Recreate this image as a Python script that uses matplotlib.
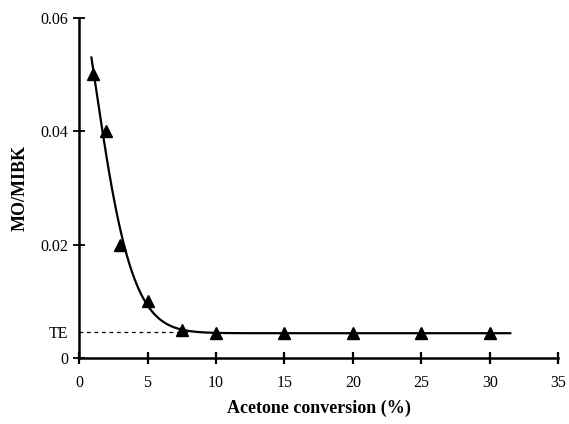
import matplotlib
matplotlib.use("Agg")
import matplotlib.pyplot as plt
import numpy as np

# values
conversion = [1, 2, 3, 5, 7.5, 10, 15, 20, 25, 30]
mo_mibk = [0.050, 0.040, 0.020, 0.010, 0.0050, 0.0044, 0.0044, 0.0043, 0.0043, 0.0043]
te_value = 0.0045
curve_range = [0.9, 31.5]

xticks = [0, 5, 10, 15, 20, 25, 30, 35]
yticks = [0, te_value, 0.02, 0.04, 0.06]
yticklabels = ["0", "TE", "0.02", "0.04", "0.06"]

plt.rcParams["font.family"] = ["Liberation Serif", "DejaVu Serif"]

# stretched exponential trend line y = a*exp(-k x^p) + c, weighted least squares
x = np.array(conversion)
y = np.array(mo_mibk)
w = 1 / np.sqrt(y)
best = None
for p in np.linspace(0.8, 1.6, 41):
    for k in np.linspace(0.05, 1.5, 146):
        A = np.column_stack([np.exp(-k * x ** p), np.ones_like(x)])
        coef, _, _, _ = np.linalg.lstsq(A * w[:, None], y * w, rcond=None)
        err = np.sum(((A @ coef - y) * w) ** 2)
        if best is None or err < best[0]:
            best = (err, k, p, coef)
_, k, p, (a, c) = best
xs = np.linspace(curve_range[0], curve_range[1], 300)
ys = a * np.exp(-k * xs ** p) + c

fig = plt.figure(figsize=(5.69, 4.24), dpi=100)
ax = fig.add_axes([0.139, 0.156, 0.842, 0.802])

ax.plot([0, 8], [te_value, te_value], color="black", linestyle=(0, (3, 3)), linewidth=0.9)
ax.plot(xs, ys, color="black", linewidth=1.6)
ax.plot(x, y, linestyle="none", marker="^", color="black", markersize=8)

ax.set_xlim(0, 35)
ax.set_ylim(0, 0.06)
ax.set_xticks(xticks)
ax.set_yticks(yticks)
ax.set_yticklabels(yticklabels)

ax.spines["top"].set_visible(False)
ax.spines["right"].set_visible(False)
ax.spines["left"].set_linewidth(1.8)
ax.spines["bottom"].set_linewidth(1.8)
ax.tick_params(axis="x", direction="inout", length=9, width=1.6, pad=8, labelsize=11.5)
ax.tick_params(axis="y", direction="inout", length=8, width=1.3, pad=4, labelsize=11.5)
ax.yaxis.get_major_ticks()[1].tick1line.set_visible(False)

ax.set_xlabel("Acetone conversion (%)", fontsize=13, fontweight="bold", labelpad=6)
ax.set_ylabel("MO/MIBK", fontsize=13, fontweight="bold", labelpad=8)

fig.savefig("out.png", dpi=100)
